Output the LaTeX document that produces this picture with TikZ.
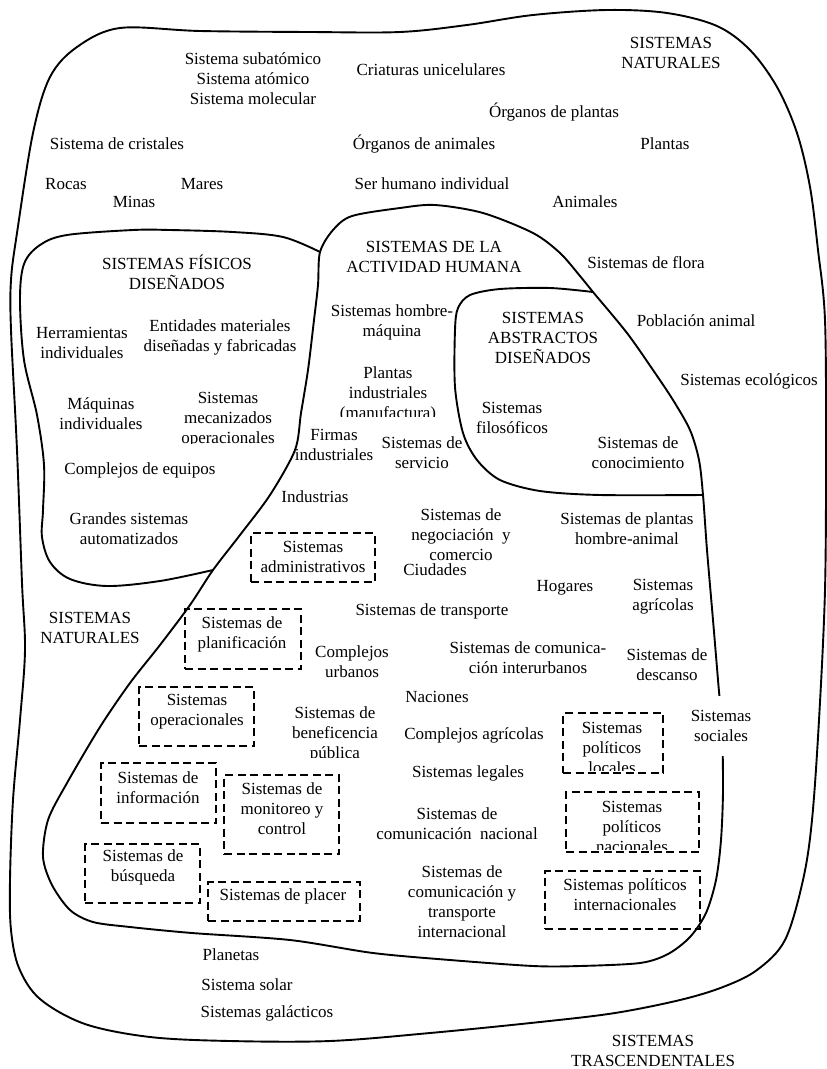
\documentclass[tikz,border=0pt]{standalone}
\usepackage{fontspec}
\setmainfont{Liberation Serif}
\begin{document}
\begin{tikzpicture}[x=1pt,y=-1pt,
  lbl/.style={align=center, inner sep=0pt, font=\fontsize{17}{20}\selectfont},
  blob/.style={line width=1.9pt, line join=round},
  dbox/.style={draw, line width=1.8pt, dash pattern=on 8pt off 4.5pt, inner sep=0pt},
]
\useasboundingbox (0,0) rectangle (827,1069);

% ---------- boundaries ----------
% natural systems (outer)
\draw[blob] plot[smooth cycle, tension=0.55] coordinates {
  (120,28) (200,31) (310,32) (400,32) (467,25) (533,15) (607,10) (667,13)
  (717,26) (750,50) (777,87) (797,133) (810,187) (818,250) (825,320)
  (826,450) (825,590) (819,720) (812,820) (803,880) (785,940) (757,970)
  (723,987) (680,1000) (615,1013) (540,1022) (430,1033) (330,1041)
  (230,1041) (150,1037) (85,1024) (40,999) (19,968) (11,930) (10,880)
  (13,800) (20,720) (25,650) (22,583) (17,450) (11,330) (11,280) (17,233)
  (33,133) (50,77) (77,47)};

% human activity systems
\draw[blob] plot[smooth cycle, tension=0.5] coordinates {
  (320,252) (333,230) (352,216) (400,208) (435,205) (483,213) (533,233)
  (560,253) (580,276) (593,292) (627,333) (653,370) (673,400) (690,430)
  (699,460) (703,495) (707,550) (713,620) (718,680) (722,730) (723,790)
  (721,840) (716,880) (706,913) (690,937) (668,954) (640,963) (580,966)
  (533,966) (450,960) (373,953) (290,940) (192,933) (130,927) (93,922)
  (70,910) (52,885) (43,857) (48,820) (67,783) (100,727) (130,683)
  (160,645) (190,605) (213,570) (240,535) (270,495) (295,450)
  (301,413) (308,370) (314,320) (318,285)};

% designed physical systems
\draw[blob] plot[smooth, tension=0.55] coordinates {
  (320,252) (283,237) (233,232) (170,230) (133,230) (67,235) (40,245)
  (24,264) (20,300) (24,360) (37,415) (44,465) (43,510) (42,537) (50,562)
  (70,579) (107,586) (160,581) (213,570)};

% designed abstract systems
\draw[blob] plot[smooth, tension=0.5] coordinates {
  (593,292) (550,288) (500,289) (470,295) (458,308) (455,330) (455,387)
  (463,433) (477,460) (500,480) (540,491) (600,495) (703,495)};

% ---------- dashed boxes ----------
\node[dbox, minimum width=124pt, minimum height=49pt] (adm)  at (313,557.5) {};
\node[dbox, minimum width=116pt, minimum height=60pt] (plan) at (243,639) {};
\node[dbox, minimum width=115pt, minimum height=59pt] (oper) at (196.5,716.5) {};
\node[dbox, minimum width=115pt, minimum height=60pt] (info) at (158.5,793) {};
\node[dbox, minimum width=115pt, minimum height=79pt] (moni) at (281.5,814.5) {};
\node[dbox, minimum width=115pt, minimum height=59pt] (busq) at (142.5,873.5) {};
\node[dbox, minimum width=152pt, minimum height=39pt] (plac) at (284,901.5) {};
\node[dbox, minimum width=100pt, minimum height=60pt] (ploc) at (613,743) {};
\node[dbox, minimum width=133pt, minimum height=60pt] (pnac) at (632.5,822) {};
\node[dbox, minimum width=155pt, minimum height=58pt] (pint) at (622.5,900) {};

\node[lbl] (tadm)  at (313,557) {Sistemas\\administrativos};
\node[lbl] (tplan) at (242,634) {Sistemas de\\planificación};
\node[lbl] (toper) at (197,712) {Sistemas\\operacionales};
\node[lbl] (tinfo) at (158,788) {Sistemas de\\información};
\node[lbl] (tmoni) at (282,809) {Sistemas de\\monitoreo y\\control};
\node[lbl] (tbusq) at (143,867.5) {Sistemas de\\búsqueda};
\node[lbl] (tplac) at (283,896) {Sistemas de placer};
\begin{scope}
  \clip (566,700) rectangle (660,770);
  \node[lbl] (tploc) at (612,748) {Sistemas\\políticos\\locales};
\end{scope}
\begin{scope}
  \clip (570,780) rectangle (696,849);
  \node[lbl] (tpnac) at (632,827) {Sistemas\\políticos\\nacionales};
\end{scope}
\node[lbl] (tpint) at (625,895) {Sistemas políticos\\internacionales};

% ---------- labels ----------
\node[lbl] (sub)   at (253,79)  {Sistema subatómico\\Sistema atómico\\Sistema molecular};
\node[lbl] (cri)   at (431,70)  {Criaturas unicelulares};
\node[lbl] (natt)  at (671,53)  {SISTEMAS\\NATURALES};
\node[lbl] (orgp)  at (554,112) {Órganos de plantas};
\node[lbl] (cris)  at (117,144) {Sistema de cristales};
\node[lbl] (orga)  at (424,144) {Órganos de animales};
\node[lbl] (plan)  at (665,144) {Plantas};
\node[lbl] (roca)  at (66,184)  {Rocas};
\node[lbl] (mina)  at (134,202) {Minas};
\node[lbl] (mare)  at (202,184) {Mares};
\node[lbl] (ser)   at (432,184) {Ser humano individual};
\node[lbl] (anim)  at (585,202) {Animales};
\node[lbl] (fis)   at (177,272) {SISTEMAS FÍSICOS\\DISEÑADOS};
\node[lbl] (act)   at (434,257) {SISTEMAS DE LA\\ACTIVIDAD HUMANA};
\node[lbl] (flor)  at (646,263) {Sistemas de flora};
\node[lbl] (herr)  at (82,343)  {Herramientas\\individuales};
\node[lbl] (enti)  at (220,337.5) {Entidades materiales\\diseñadas y fabricadas};
\node[lbl] (hmaq)  at (392,322) {Sistemas hombre-\\máquina};
\node[lbl] (abst)  at (543,338) {SISTEMAS\\ABSTRACTOS\\DISEÑADOS};
\node[lbl] (pobl)  at (696,321) {Población animal};
\node[lbl] (ecol)  at (749,381) {Sistemas ecológicos};
\begin{scope}
  \clip (330,355) rectangle (450,416);
  \node[lbl] (pind) at (388,394) {Plantas\\industriales\\(manufactura)};
\end{scope}
\node[lbl] (maqu)  at (101,414) {Máquinas\\individuales};
\begin{scope}
  \clip (170,385) rectangle (290,443);
  \node[lbl] (meca) at (228,420) {Sistemas\\mecanizados\\operacionales};
\end{scope}
\node[lbl] (firm)  at (334,445) {Firmas\\industriales};
\node[lbl] (serv)  at (422,453) {Sistemas de\\servicio};
\node[lbl] (filo)  at (512,417.5) {Sistemas\\filosóficos};
\node[lbl] (cono)  at (638,453) {Sistemas de\\conocimiento};
\node[lbl] (cequ)  at (140,470) {Complejos de equipos};
\node[lbl] (indu)  at (315,497) {Industrias};
\node[lbl] (gran)  at (129,529) {Grandes sistemas\\automatizados};
\node[lbl] (nego)  at (461,535) {Sistemas de\\negociación~ y\\comercio};
\node[lbl] (ciud)  at (435,570) {Ciudades};
\node[lbl] (phan)  at (627,529) {Sistemas de plantas\\hombre-animal};
\node[lbl] (hoga)  at (565,588) {Hogares};
\node[lbl] (agri)  at (663,596.5) {Sistemas\\agrícolas};
\node[lbl] (natl)  at (90,628)  {SISTEMAS\\NATURALES};
\node[lbl] (tran)  at (432,611) {Sistemas de transporte};
\node[lbl] (curb)  at (352,662) {Complejos\\urbanos};
\node[lbl] (comi)  at (528,657.5) {Sistemas de comunica-\\ción interurbanos};
\node[lbl] (desc)  at (667,664.5) {Sistemas de\\descanso};
\node[lbl] (naci)  at (437,697) {Naciones};
\begin{scope}
  \clip (280,700) rectangle (390,757);
  \node[lbl] (bene) at (335,734) {Sistemas de\\beneficencia\\pública};
\end{scope}
\node[lbl] (cagr)  at (474,735) {Complejos agrícolas};
\node[lbl, fill=white, inner xsep=3pt, inner ysep=14pt] (soci) at (721,726) {Sistemas\\sociales};
\node[lbl] (lega)  at (468,773) {Sistemas legales};
\node[lbl] (cnac)  at (457,823.5) {Sistemas de\\comunicación~ nacional};
\node[lbl] (ctin)  at (462,902) {Sistemas de\\comunicación y\\transporte\\internacional};
\node[lbl] (plne)  at (231,955) {Planetas};
\node[lbl] (sola)  at (247,985) {Sistema solar};
\node[lbl] (gala)  at (267,1013) {Sistemas galácticos};
\node[lbl] (tras)  at (653,1051) {SISTEMAS\\TRASCENDENTALES};
\end{tikzpicture}
\end{document}
